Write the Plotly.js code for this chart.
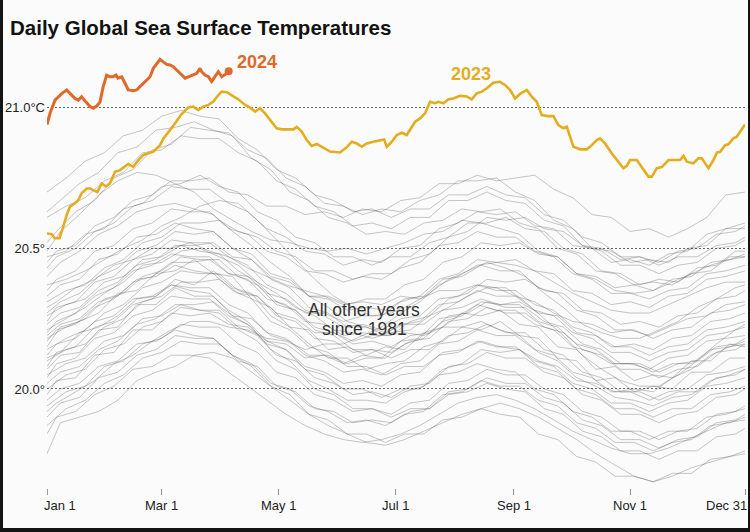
<!DOCTYPE html>
<html><head><meta charset="utf-8">
<script src="https://cdn.plot.ly/plotly-3.0.1.min.js"></script>
<style>
html,body{margin:0;padding:0;background:#141414;width:750px;height:532px;overflow:hidden}
#chart{position:absolute;left:3px;top:0;width:745px;height:528px}
</style></head><body><div id="chart"></div>
<script>
// Day-of-year sampling for the gray "other years" lines
const daysA = [0,10,20,30,40,50,60,70,80,90,100,110,120,130,140,150,160,170,180,190,200,210,220,230,240,250,260,270,280,290,300,310,320,330,340,350,360,365];
const daysB = [0,5,15,25,35,45,55,65,75,85,95,105,115,125,135,145,155,165,175,185,195,205,215,225,235,245,255,265,275,285,295,305,315,325,335,345,355,365];
const daysC = [0,7,17,27,37,47,57,67,77,87,97,107,117,127,137,147,157,167,177,187,197,207,217,227,237,247,257,267,277,287,297,307,317,327,337,347,357,365];

const g01 = [20.70,20.75,20.81,20.84,20.90,20.92,20.97,20.99,20.97,20.96,20.89,20.85,20.78,20.75,20.69,20.67,20.63,20.64,20.61,20.64,20.64,20.69,20.69,20.72,20.69,20.68,20.62,20.60,20.54,20.52,20.47,20.47,20.44,20.47,20.47,20.51,20.52,20.54];
const g02 = [20.45,20.49,20.51,20.58,20.61,20.67,20.69,20.74,20.74,20.75,20.70,20.69,20.65,20.65,20.62,20.63,20.61,20.64,20.63,20.67,20.68,20.73,20.73,20.76,20.74,20.75,20.76,20.71,20.68,20.62,20.61,20.56,20.57,20.54,20.57,20.61,20.69,20.70];
const g03 = [20.63,20.67,20.73,20.77,20.84,20.86,20.92,20.93,20.95,20.92,20.90,20.82,20.78,20.70,20.67,20.61,20.59,20.55,20.56,20.55,20.59,20.60,20.64,20.63,20.64,20.59,20.57,20.50,20.48,20.42,20.41,20.37,20.38,20.37,20.41,20.42,20.47,20.47];
const g04 = [20.61,20.65,20.68,20.74,20.77,20.84,20.85,20.90,20.89,20.89,20.84,20.81,20.74,20.71,20.65,20.63,20.58,20.59,20.57,20.61,20.61,20.67,20.67,20.70,20.67,20.66,20.60,20.58,20.51,20.49,20.44,20.44,20.41,20.44,20.45,20.50,20.51,20.53];
const g05 = [20.52,20.56,20.63,20.67,20.75,20.78,20.85,20.87,20.93,20.92,20.91,20.85,20.82,20.75,20.72,20.66,20.65,20.62,20.64,20.63,20.67,20.69,20.74,20.74,20.75,20.70,20.67,20.60,20.57,20.50,20.49,20.45,20.46,20.45,20.50,20.51,20.57,20.57];
const g06 = [20.49,20.56,20.62,20.69,20.74,20.77,20.76,20.73,20.70,20.64,20.60,20.56,20.53,20.52,20.50,20.49,20.50,20.48,20.50,20.52,20.55,20.56,20.60,20.59,20.57,20.55,20.49,20.47,20.41,20.39,20.35,20.34,20.35,20.38,20.41,20.44,20.46,20.47];
const g07 = [20.47,20.49,20.55,20.57,20.64,20.66,20.72,20.73,20.76,20.72,20.70,20.63,20.60,20.54,20.52,20.47,20.47,20.44,20.47,20.47,20.52,20.54,20.59,20.59,20.61,20.57,20.56,20.50,20.48,20.42,20.41,20.37,20.39,20.38,20.43,20.44,20.49,20.49];
const g08 = [20.43,20.47,20.50,20.56,20.59,20.65,20.67,20.72,20.71,20.71,20.66,20.63,20.57,20.54,20.49,20.48,20.44,20.46,20.45,20.50,20.51,20.57,20.59,20.63,20.62,20.63,20.58,20.57,20.51,20.50,20.45,20.46,20.44,20.48,20.49,20.55,20.57,20.59];
const g09 = [20.40,20.45,20.49,20.55,20.58,20.63,20.65,20.66,20.64,20.62,20.56,20.51,20.45,20.40,20.33,20.29,20.24,20.22,20.19,20.20,20.19,20.22,20.22,20.24,20.21,20.19,20.13,20.10,20.04,20.01,19.97,19.96,19.94,19.97,19.98,20.03,20.05,20.07];
const g10 = [20.37,20.39,20.42,20.46,20.50,20.53,20.58,20.61,20.65,20.67,20.66,20.60,20.53,20.46,20.39,20.33,20.29,20.26,20.27,20.30,20.34,20.39,20.42,20.45,20.43,20.40,20.34,20.29,20.23,20.20,20.18,20.18,20.21,20.24,20.29,20.32,20.36,20.37];
const g11 = [20.35,20.39,20.42,20.49,20.51,20.57,20.59,20.64,20.63,20.63,20.57,20.55,20.49,20.47,20.42,20.41,20.38,20.40,20.39,20.43,20.45,20.51,20.52,20.56,20.54,20.54,20.49,20.47,20.41,20.39,20.34,20.34,20.32,20.35,20.36,20.41,20.42,20.44];
const g12 = [20.33,20.37,20.39,20.46,20.48,20.54,20.55,20.59,20.57,20.56,20.50,20.46,20.39,20.36,20.29,20.27,20.22,20.22,20.20,20.23,20.23,20.28,20.29,20.32,20.30,20.30,20.24,20.22,20.16,20.14,20.09,20.09,20.06,20.09,20.09,20.14,20.15,20.17];
const g13 = [20.31,20.35,20.37,20.43,20.46,20.52,20.54,20.59,20.59,20.60,20.56,20.54,20.49,20.47,20.42,20.42,20.39,20.41,20.41,20.46,20.48,20.54,20.56,20.61,20.60,20.61,20.57,20.56,20.51,20.50,20.46,20.47,20.45,20.49,20.50,20.55,20.56,20.58];
const g14 = [20.29,20.31,20.36,20.39,20.44,20.46,20.50,20.50,20.52,20.49,20.47,20.43,20.40,20.37,20.35,20.33,20.30,20.31,20.30,20.33,20.32,20.35,20.35,20.37,20.36,20.33,20.31,20.27,20.24,20.23,20.20,20.21,20.19,20.22,20.25,20.26,20.30,20.31];
const g15 = [20.27,20.31,20.34,20.40,20.43,20.49,20.51,20.56,20.55,20.56,20.50,20.48,20.41,20.39,20.33,20.32,20.28,20.29,20.28,20.32,20.33,20.39,20.40,20.44,20.42,20.42,20.36,20.34,20.28,20.26,20.21,20.21,20.18,20.21,20.22,20.27,20.28,20.30];
const g16 = [20.26,20.30,20.32,20.38,20.40,20.46,20.47,20.51,20.49,20.48,20.42,20.38,20.31,20.28,20.21,20.19,20.14,20.14,20.11,20.14,20.14,20.19,20.20,20.23,20.20,20.20,20.14,20.12,20.06,20.04,19.99,19.99,19.96,19.99,19.99,20.04,20.05,20.07];
const g17 = [20.24,20.29,20.31,20.38,20.40,20.46,20.48,20.53,20.52,20.52,20.47,20.44,20.37,20.34,20.28,20.26,20.22,20.23,20.21,20.25,20.26,20.32,20.33,20.37,20.35,20.35,20.30,20.28,20.22,20.20,20.15,20.15,20.12,20.15,20.16,20.21,20.22,20.24];
const g18 = [20.23,20.27,20.29,20.35,20.38,20.44,20.46,20.51,20.51,20.52,20.47,20.46,20.40,20.38,20.33,20.33,20.30,20.32,20.32,20.37,20.39,20.45,20.47,20.52,20.51,20.52,20.48,20.47,20.41,20.40,20.36,20.37,20.35,20.39,20.40,20.45,20.46,20.48];
const g19 = [20.21,20.25,20.29,20.34,20.38,20.44,20.45,20.49,20.50,20.47,20.44,20.38,20.34,20.29,20.26,20.21,20.20,20.18,20.20,20.21,20.26,20.29,20.33,20.36,20.36,20.31,20.25,20.19,20.12,20.07,20.03,20.01,20.01,20.05,20.10,20.16,20.21,20.23];
const g20 = [20.20,20.24,20.27,20.33,20.36,20.42,20.44,20.48,20.47,20.47,20.41,20.39,20.32,20.30,20.24,20.23,20.19,20.20,20.19,20.23,20.24,20.30,20.31,20.35,20.33,20.33,20.28,20.26,20.20,20.18,20.13,20.13,20.10,20.13,20.14,20.19,20.20,20.22];
const g21 = [20.19,20.23,20.25,20.31,20.33,20.39,20.40,20.44,20.42,20.41,20.35,20.32,20.24,20.21,20.15,20.13,20.08,20.08,20.05,20.08,20.08,20.13,20.14,20.17,20.15,20.14,20.08,20.06,20.00,19.98,19.93,19.93,19.90,19.93,19.93,19.98,19.99,20.01];
const g22 = [20.18,20.22,20.25,20.32,20.34,20.40,20.42,20.47,20.46,20.46,20.40,20.37,20.30,20.28,20.22,20.20,20.16,20.17,20.15,20.19,20.20,20.26,20.27,20.31,20.29,20.29,20.24,20.22,20.16,20.14,20.09,20.09,20.06,20.09,20.10,20.15,20.16,20.18];
const g23 = [20.17,20.21,20.23,20.29,20.32,20.38,20.40,20.45,20.45,20.46,20.41,20.40,20.34,20.32,20.27,20.27,20.24,20.26,20.26,20.31,20.33,20.39,20.41,20.46,20.45,20.46,20.42,20.41,20.35,20.34,20.30,20.31,20.29,20.33,20.34,20.39,20.40,20.42];
const g24 = [20.15,20.22,20.24,20.27,20.34,20.35,20.41,20.42,20.46,20.41,20.40,20.32,20.29,20.22,20.21,20.14,20.15,20.12,20.15,20.14,20.20,20.22,20.27,20.26,20.28,20.23,20.22,20.15,20.14,20.07,20.08,20.03,20.05,20.04,20.10,20.10,20.16,20.15];
const g25 = [20.14,20.18,20.21,20.27,20.30,20.36,20.38,20.42,20.41,20.41,20.35,20.33,20.26,20.24,20.18,20.17,20.13,20.14,20.13,20.17,20.18,20.24,20.25,20.29,20.27,20.27,20.22,20.20,20.14,20.12,20.07,20.07,20.04,20.07,20.08,20.13,20.14,20.16];
const g26 = [20.12,20.16,20.18,20.24,20.26,20.32,20.33,20.37,20.35,20.34,20.28,20.24,20.17,20.14,20.07,20.05,20.00,20.00,19.97,20.00,20.00,20.05,20.06,20.09,20.07,20.06,20.00,19.98,19.92,19.90,19.85,19.85,19.82,19.85,19.85,19.90,19.91,19.93];
const g27 = [20.11,20.13,20.20,20.22,20.26,20.32,20.33,20.39,20.37,20.42,20.36,20.34,20.26,20.22,20.16,20.11,20.11,20.07,20.09,20.10,20.15,20.17,20.22,20.21,20.24,20.19,20.18,20.11,20.10,20.03,20.04,19.99,20.01,20.00,20.06,20.06,20.11,20.11];
const g28 = [20.10,20.14,20.16,20.22,20.25,20.31,20.33,20.38,20.38,20.39,20.34,20.33,20.27,20.25,20.20,20.20,20.17,20.19,20.19,20.24,20.26,20.32,20.34,20.39,20.38,20.39,20.35,20.34,20.28,20.27,20.23,20.24,20.22,20.26,20.27,20.32,20.33,20.35];
const g29 = [20.08,20.13,20.15,20.22,20.24,20.30,20.32,20.37,20.36,20.36,20.30,20.27,20.20,20.18,20.12,20.10,20.06,20.07,20.05,20.09,20.10,20.16,20.17,20.21,20.19,20.19,20.14,20.12,20.06,20.04,19.99,19.99,19.96,19.99,20.00,20.05,20.06,20.08];
const g30 = [20.07,20.12,20.13,20.21,20.22,20.30,20.30,20.36,20.33,20.33,20.26,20.22,20.14,20.10,20.03,20.00,19.96,19.96,19.95,19.99,20.01,20.07,20.09,20.14,20.13,20.14,20.10,20.08,20.03,20.02,19.99,20.00,19.99,20.04,20.07,20.12,20.15,20.16];
const g31 = [20.05,20.09,20.11,20.17,20.19,20.25,20.26,20.30,20.28,20.27,20.21,20.17,20.10,20.07,20.00,19.98,19.93,19.93,19.90,19.93,19.93,19.98,19.99,20.02,20.00,19.99,19.93,19.91,19.85,19.83,19.78,19.78,19.75,19.78,19.78,19.83,19.84,19.86];
const g32 = [20.04,20.09,20.11,20.18,20.20,20.26,20.28,20.33,20.32,20.32,20.26,20.23,20.16,20.14,20.08,20.06,20.02,20.03,20.01,20.05,20.06,20.12,20.13,20.17,20.15,20.15,20.10,20.08,20.02,20.00,19.95,19.95,19.92,19.95,19.96,20.01,20.02,20.04];
const g33 = [20.02,20.06,20.08,20.14,20.17,20.23,20.25,20.30,20.30,20.31,20.26,20.25,20.19,20.17,20.12,20.12,20.09,20.11,20.11,20.16,20.18,20.24,20.26,20.31,20.30,20.31,20.27,20.26,20.20,20.19,20.15,20.16,20.14,20.18,20.19,20.24,20.25,20.27];
const g34 = [20.00,20.05,20.07,20.14,20.16,20.22,20.24,20.29,20.28,20.28,20.22,20.19,20.12,20.10,20.04,20.02,19.98,19.99,19.97,20.01,20.02,20.08,20.09,20.13,20.11,20.11,20.06,20.04,19.98,19.96,19.91,19.91,19.88,19.91,19.92,19.97,19.98,20.00];
const g35 = [19.98,20.03,20.04,20.12,20.13,20.21,20.21,20.27,20.26,20.27,20.23,20.22,20.17,20.16,20.11,20.12,20.09,20.12,20.11,20.17,20.18,20.25,20.26,20.30,20.28,20.28,20.23,20.21,20.15,20.13,20.09,20.09,20.07,20.11,20.12,20.17,20.18,20.19];
const g36 = [19.96,20.00,20.02,20.08,20.10,20.16,20.17,20.21,20.19,20.18,20.12,20.08,20.01,19.98,19.91,19.89,19.84,19.84,19.81,19.84,19.84,19.89,19.90,19.93,19.91,19.90,19.84,19.82,19.76,19.74,19.69,19.69,19.67,19.70,19.70,19.75,19.76,19.78];
const g37 = [19.94,19.99,20.01,20.08,20.10,20.16,20.18,20.23,20.22,20.22,20.16,20.13,20.06,20.04,19.98,19.96,19.92,19.93,19.91,19.95,19.96,20.02,20.03,20.07,20.05,20.05,20.00,19.98,19.92,19.90,19.85,19.85,19.82,19.85,19.86,19.91,19.92,19.94];
const g38 = [19.92,19.95,19.99,20.03,20.09,20.12,20.17,20.21,20.24,20.24,20.22,20.21,20.18,20.17,20.14,20.16,20.16,20.19,20.22,20.27,20.31,20.37,20.40,20.44,20.45,20.44,20.42,20.38,20.34,20.31,20.28,20.27,20.27,20.30,20.33,20.36,20.38,20.38];
const g39 = [19.90,19.95,19.97,20.04,20.06,20.12,20.14,20.19,20.18,20.18,20.12,20.09,20.02,20.00,19.94,19.92,19.88,19.89,19.87,19.91,19.92,19.98,19.99,20.03,20.01,20.01,19.96,19.94,19.88,19.86,19.81,19.81,19.78,19.81,19.82,19.87,19.88,19.90];
const g40 = [19.87,19.93,19.96,20.02,20.05,20.11,20.13,20.17,20.16,20.16,20.10,20.08,20.01,19.99,19.93,19.92,19.88,19.89,19.88,19.92,19.93,19.99,20.00,20.04,20.02,20.02,19.97,19.95,19.89,19.87,19.82,19.82,19.79,19.82,19.83,19.88,19.89,19.91];
const g41 = [19.84,19.90,19.92,19.98,20.01,20.07,20.08,20.12,20.12,20.11,20.06,20.01,19.96,19.91,19.87,19.84,19.82,19.81,19.82,19.84,19.87,19.91,19.95,19.97,19.98,19.96,19.93,19.89,19.85,19.82,19.79,19.77,19.77,19.79,19.82,19.85,19.88,19.89];
const g42 = [19.77,19.88,19.90,19.92,19.96,20.03,20.06,20.08,20.12,20.13,20.11,20.06,20.01,19.96,19.91,19.87,19.84,19.81,19.80,19.82,19.85,19.88,19.91,19.93,19.95,19.93,19.90,19.86,19.82,19.77,19.73,19.69,19.67,19.69,19.72,19.74,19.76,19.77];

const otherYears = [g01,g02,g03,g04,g05,g06,g07,g08,g09,g10,g11,g12,g13,g14,g15,g16,g17,g18,g19,g20,g21,g22,g23,g24,g25,g26,g27,g28,g29,g30,g31,g32,g33,g34,g35,g36,g37,g38,g39,g40,g41,g42];

const days2023 = [0,2.5,4,6.5,8.5,10.3,12,14.6,16.4,18.1,20.8,22.5,24.2,26.3,28.6,30.9,32.9,35.6,38.2,40.8,42.5,45.1,47.8,50.4,53,55.6,59.1,60.8,65.4,70.1,73.7,76.4,79.1,81.7,84.4,87,89.6,91.4,94,96.6,100,103.6,106.2,108.8,111.4,114,116.6,120.1,122.8,128.8,130.6,133.2,135.8,138.4,141.1,143.7,145.4,148,153.2,156.7,159.4,162,164.6,167.2,170.7,174.2,176.3,177.7,180.3,182.9,185.5,188.1,189.9,192.5,195.1,197.7,200.3,202.9,204.7,207.3,209.9,212.5,216,219.5,222.1,224.7,227.4,230,233.4,236.9,239.5,242.2,244.8,247.4,250.9,253.5,256.1,258.7,262.2,264.8,267.4,270,271.8,273.5,275.3,278.8,282.3,284.9,287.5,289.2,291.8,295.3,298,301.4,303.2,304.9,308.4,311,314.5,316.3,318.9,321.5,325,331.1,332.8,334.6,338,340.6,342.4,345.9,348.5,350.3,352,354.6,356.3,358.9,360.7,364.2,365];
const sst2023 = [20.553,20.55,20.536,20.536,20.577,20.619,20.648,20.66,20.672,20.696,20.713,20.713,20.707,20.70,20.731,20.72,20.731,20.772,20.778,20.79,20.80,20.79,20.814,20.832,20.838,20.844,20.867,20.89,20.93,20.975,21.0,21.004,20.992,21.004,21.01,21.022,21.045,21.057,21.055,21.045,21.03,21.01,21.0,20.986,20.998,20.98,20.956,20.927,20.923,20.923,20.932,20.915,20.885,20.864,20.871,20.861,20.856,20.844,20.841,20.859,20.879,20.873,20.861,20.873,20.879,20.885,20.887,20.861,20.879,20.903,20.911,20.903,20.921,20.95,20.962,20.98,21.021,21.016,21.021,21.016,21.03,21.033,21.042,21.04,21.03,21.051,21.057,21.069,21.089,21.092,21.081,21.063,21.033,21.049,21.063,21.039,21.021,20.974,20.97,20.97,20.938,20.927,20.932,20.897,20.861,20.852,20.852,20.867,20.885,20.891,20.873,20.838,20.814,20.785,20.793,20.814,20.814,20.79,20.755,20.755,20.785,20.789,20.814,20.814,20.829,20.808,20.802,20.82,20.82,20.785,20.814,20.84,20.843,20.867,20.87,20.891,20.897,20.932,20.94];

const days2024 = [0,1.6,4.2,5.9,7.7,10.3,12,14.6,16.4,18.1,20.4,22.5,24.2,26,27.7,29.4,31.2,32.9,34.5,36.1,37.1,39.1,40.8,42.5,45.1,46.9,48.6,50.4,52.1,53.9,55.6,57.4,59.1,60.8,62.6,64.3,66.1,67.8,70.5,72.2,73.9,75.7,78.3,80,80.9,82.6,84.4,86.1,87.9,89.6,91.4,93.1,94,95];
const sst2024 = [20.94,20.98,21.027,21.04,21.05,21.063,21.05,21.033,21.027,21.039,21.02,21.004,20.998,21.006,21.02,21.075,21.116,21.11,21.11,21.116,21.105,21.11,21.087,21.063,21.06,21.063,21.075,21.087,21.098,21.11,21.14,21.158,21.172,21.163,21.154,21.152,21.146,21.134,21.116,21.105,21.11,21.116,21.122,21.14,21.128,21.116,21.11,21.093,21.11,21.128,21.11,21.116,21.122,21.13];

const xTickDays = [0,60,121,182,244,305,365];
const xTickLabels = ['Jan 1','Mar 1','May 1','Jul 1','Sep 1','Nov 1','Dec 31'];
const yTickVals = [20.0,20.5,21.0];
const yTickLabels = ['20.0°','20.5°','21.0°C'];

const FONT = 'Liberation Sans, Arial, Helvetica, sans-serif';
const COL2023 = '#e3ad1f';
const COL2024 = '#e0692a';
const dayGrids = [daysA, daysB, daysC];

const traces = [];
otherYears.forEach((vals, i) => {
  traces.push({
    x: dayGrids[i % 3],
    y: vals,
    type: 'scatter', mode: 'lines',
    line: {color: 'rgba(70,70,70,0.30)', width: 1},
    hoverinfo: 'skip'
  });
});
traces.push({x: days2023, y: sst2023, type: 'scatter', mode: 'lines',
  line: {color: COL2023, width: 2.6}, hoverinfo: 'skip'});
traces.push({x: days2024, y: sst2024, type: 'scatter', mode: 'lines',
  line: {color: COL2024, width: 3}, hoverinfo: 'skip'});
traces.push({x: [days2024[days2024.length-1]], y: [sst2024[sst2024.length-1]],
  type: 'scatter', mode: 'markers',
  marker: {color: COL2024, size: 8}, hoverinfo: 'skip'});

const annotations = xTickDays.map((d, i) => ({
  x: d, xref: 'x', y: 0, yref: 'paper',
  text: xTickLabels[i], showarrow: false,
  xanchor: i === 0 ? 'left' : (i === xTickDays.length-1 ? 'right' : 'center'),
  xshift: i === 0 ? -5 : (i === xTickDays.length-1 ? 4 : 0),
  yanchor: 'middle', yshift: -17,
  font: {family: FONT, size: 13, color: '#222'}
}));
annotations.push({x: 98.3, y: 21.161, xref: 'x', yref: 'y', text: '<b>2024</b>', showarrow: false,
  xanchor: 'left', yanchor: 'middle', font: {family: FONT, size: 18, color: COL2024}});
annotations.push({x: 210.3, y: 21.12, xref: 'x', yref: 'y', text: '<b>2023</b>', showarrow: false,
  xanchor: 'left', yanchor: 'middle', font: {family: FONT, size: 18, color: COL2023}});
annotations.push({x: 166, y: 20.281, xref: 'x', yref: 'y', text: 'All other years', showarrow: false,
  xanchor: 'center', yanchor: 'middle', font: {family: FONT, size: 17.5, color: '#333'}});
annotations.push({x: 166, y: 20.2135, xref: 'x', yref: 'y', text: 'since 1981', showarrow: false,
  xanchor: 'center', yanchor: 'middle', font: {family: FONT, size: 17.5, color: '#333'}});

const layout = {
  width: 745, height: 528,
  margin: {l: 44, r: 3, t: 40, b: 40, pad: 0},
  paper_bgcolor: '#fbfbfb', plot_bgcolor: '#fbfbfb',
  showlegend: false,
  title: {text: '<b>Daily Global Sea Surface Temperatures</b>',
    x: 7/745, xref: 'container', xanchor: 'left',
    y: 1 - 27.5/528, yref: 'container', yanchor: 'middle',
    font: {family: FONT, size: 20.5, color: '#121212'}},
  xaxis: {range: [0, 365], tickvals: xTickDays, showticklabels: false,
    ticks: 'outside', ticklen: 6, tickwidth: 1, tickcolor: '#999',
    showgrid: false, zeroline: false, showline: false, fixedrange: true},
  yaxis: {range: [19.648, 21.2407], tickvals: yTickVals, ticktext: yTickLabels,
    ticks: '', showgrid: true, gridcolor: '#666', gridwidth: 1, griddash: '2px,2px',
    zeroline: false, showline: false, fixedrange: true, ticklabelstandoff: 1,
    tickfont: {family: FONT, size: 13, color: '#222'}},
  annotations: annotations
};

Plotly.newPlot('chart', traces, layout, {displayModeBar: false, staticPlot: true});
</script></body></html>
